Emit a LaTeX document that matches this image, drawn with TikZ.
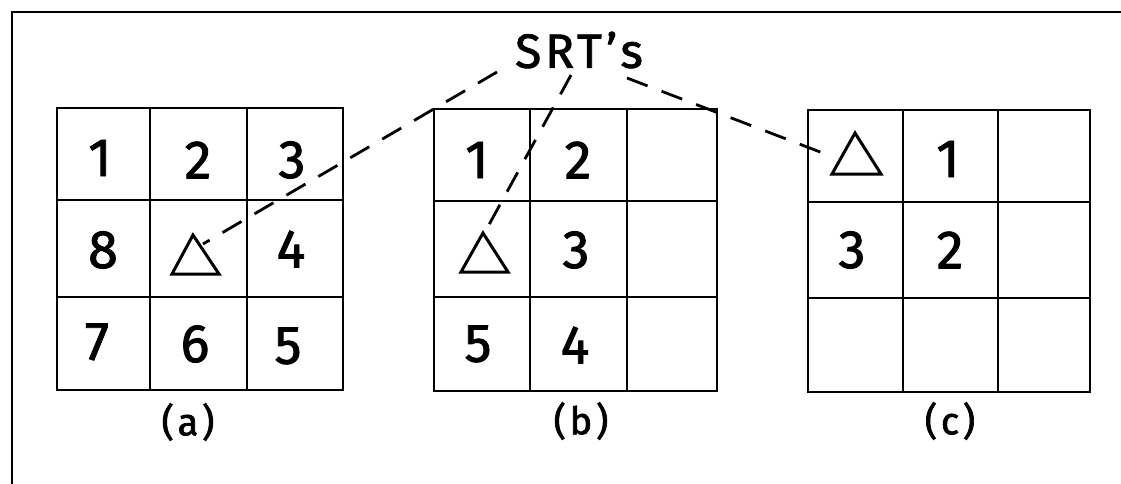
\documentclass[tikz,border=0pt]{standalone}
\usepackage{fontspec}
\setmainfont{Fira Sans}
\begin{document}
\begin{tikzpicture}[x=1pt,y=-1pt,
  frameline/.style={line width=2.2pt},
  gridline/.style={line width=2.8pt},
  srtlink/.style={line width=2.8pt, dash pattern=on 22pt off 15pt},
  digit/.style={font=\fontsize{54}{54}\selectfont\addfontfeature{FakeBold=1.6}, inner sep=0pt},
  caption/.style={font=\fontsize{38}{38}\selectfont\addfontfeature{FakeBold=1.8,LetterSpace=10}, inner sep=0pt},
  heading/.style={font=\fontsize{48}{48}\selectfont\addfontfeature{FakeBold=1.6,LetterSpace=8}, inner sep=0pt},
  marker/.style={line width=3pt, line join=miter}]
\useasboundingbox (0,0) rectangle (1121,484);

% outer frame (top and left edges)
\draw[frameline] (12,484) -- (12,12) -- (1121,12);

% grid (a)
\draw[gridline] (57,108) rectangle (343,390);
\draw[gridline] (150,108) -- (150,390) (247,108) -- (247,390)
                (57,200) -- (343,200) (57,297) -- (343,297);
% grid (b)
\draw[gridline] (434,109) rectangle (717,391);
\draw[gridline] (530,109) -- (530,391) (627,109) -- (627,391)
                (434,201) -- (717,201) (434,297) -- (717,297);
% grid (c)
\draw[gridline] (808,110) rectangle (1090,392);
\draw[gridline] (903,110) -- (903,392) (998,110) -- (998,392)
                (808,202) -- (1090,202) (808,298) -- (1090,298);

% numbers in (a)
\node[digit] (a1) at (100,158) {1};
\node[digit] (a2) at (198,160) {2};
\node[digit] (a3) at (292,160) {3};
\node[digit] (a8) at (103,250) {8};
\node[digit] (a4) at (291,249) {4};
\node[digit] (a7) at (97,342) {7};
\node[digit] (a6) at (195,344) {6};
\node[digit] (a5) at (288,346) {5};
% numbers in (b)
\node[digit] (b1) at (477,160) {1};
\node[digit] (b2) at (578,160) {2};
\node[digit] (b3) at (576,250) {3};
\node[digit] (b5) at (478,344) {5};
\node[digit] (b4) at (575,345) {4};
% numbers in (c)
\node[digit] (c1) at (948,159) {1};
\node[digit] (c3) at (852,250) {3};
\node[digit] (c2) at (950,250) {2};

% SRT markers
\draw[marker] (193,235) -- (172,274) -- (219,274) -- cycle;
\draw[marker] (483,233) -- (461,272) -- (508,272) -- cycle;
\draw[marker] (855,133) -- (832,174) -- (881,174) -- cycle;
\coordinate (hitA) at (203,244);
\coordinate (hitB) at (485,232);
\coordinate (hitC) at (828,155);

% heading and its links
\node[heading] (srt) at (579,50) {SRT's};
\coordinate (srtA) at (497,72);
\coordinate (srtB) at (571,75);
\coordinate (srtC) at (627,78);
\draw[srtlink] (srtA) -- (hitA);
\draw[srtlink] (srtB) -- (hitB);
\draw[srtlink] (srtC) -- (hitC);

% captions
\node[caption] (capA) at (188,422) {(a)};
\node[caption] (capB) at (581,421) {(b)};
\node[caption] (capC) at (950,421) {(c)};
\end{tikzpicture}
\end{document}
